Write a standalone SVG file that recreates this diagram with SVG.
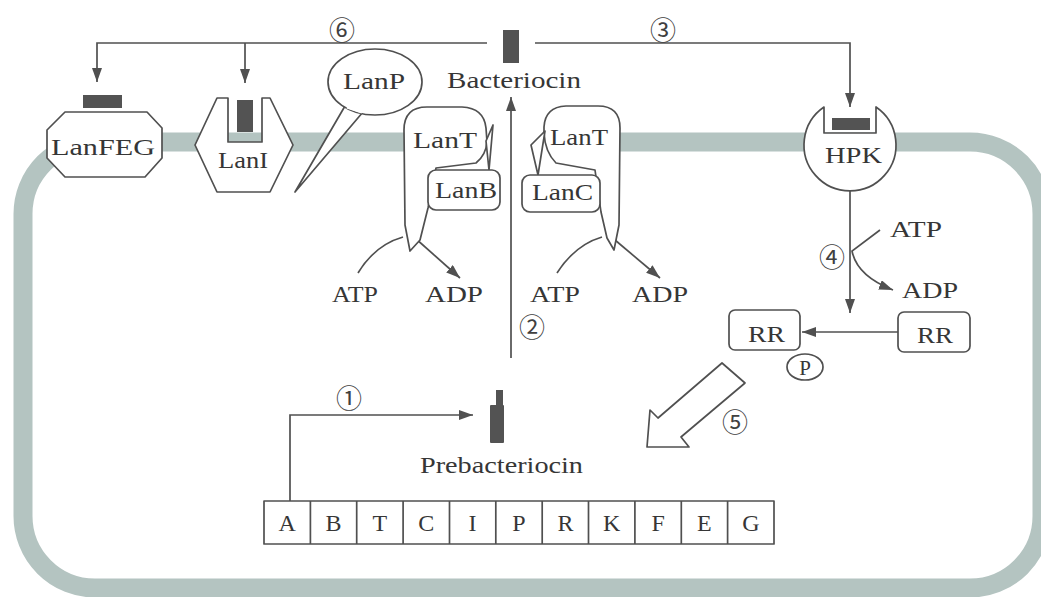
<svg xmlns="http://www.w3.org/2000/svg" width="1041" height="597" viewBox="0 0 1041 597">
<defs>
<style>
.ln{fill:none;stroke:#505050;stroke-width:1.7}
.sh{fill:#fff;stroke:#505050;stroke-width:1.7;stroke-linejoin:round}
.bar{fill:#535353}
.t{font-family:"Liberation Serif","Times New Roman",serif;font-size:24px;fill:#363636}
.b{font-family:"Liberation Serif","Times New Roman",serif;font-size:24px;fill:#363636;text-anchor:middle}
.n{font-family:"Noto Sans CJK SC","DejaVu Sans",sans-serif;font-size:26px;fill:#404040;text-anchor:middle}
</style>
<marker id="ah" viewBox="0 0 14 10" refX="14" refY="5" markerWidth="14" markerHeight="10" markerUnits="userSpaceOnUse" orient="auto">
<path d="M0,0 L14,5 L0,10 Z" fill="#505050"/>
</marker>
</defs>
<rect width="1041" height="597" fill="#fff"/>
<g id="membrane">
<rect x="23" y="142" width="1019" height="446" rx="72" ry="72" fill="none" stroke="#b4c4c1" stroke-width="19"/>
<rect x="480" y="128" width="70" height="30" fill="#fff"/>
</g>
<g id="connectors">
<path class="ln" d="M487,43 L97,43 L97,82" marker-end="url(#ah)"/>
<path class="ln" d="M245,43 L245,83" marker-end="url(#ah)"/>
<path class="ln" d="M535,43 L850,43 L850,107" marker-end="url(#ah)"/>
<path class="ln" d="M511,358 L511,97" marker-end="url(#ah)"/>
<path class="ln" d="M358,273 Q375,245 403,237"/>
<path class="ln" d="M415,238 L460,278" marker-end="url(#ah)"/>
<path class="ln" d="M557,273 Q575,245 602,237"/>
<path class="ln" d="M615,240 L660,278" marker-end="url(#ah)"/>
<path class="ln" d="M850,191 L850,313" marker-end="url(#ah)"/>
<path class="ln" d="M880,230 L852,251 Q857,276 893,290" marker-end="url(#ah)"/>
<path class="ln" d="M898,332 L802,332" marker-end="url(#ah)"/>
<path class="ln" d="M290,501 L290,415 L473,415" marker-end="url(#ah)"/>
</g>
<g id="bacteriocin">
<rect class="bar" x="503" y="30" width="16" height="33"/>
<text class="t" x="447" y="88" textLength="134" lengthAdjust="spacingAndGlyphs">Bacteriocin</text>
</g>
<g id="lanfeg">
<rect class="bar" x="83" y="95" width="39" height="13"/>
<polygon class="sh" points="65,112 147,112 162,128 162,158 145,177 65,177 47,158 47,130"/>
<text class="t" x="51" y="155" textLength="104" lengthAdjust="spacingAndGlyphs">LanFEG</text>
</g>
<g id="lani">
<polygon class="sh" points="217,98 228,98 228,142 262,142 262,98 270,98 293,145 270,192 217,192 195,145"/>
<rect class="bar" x="237" y="100" width="16" height="32"/>
<text class="t" x="218" y="168" textLength="50" lengthAdjust="spacingAndGlyphs">LanI</text>
</g>
<g id="lanp">
<polygon class="sh" points="345,106 295,192 363,112"/>
<ellipse class="sh" cx="375" cy="82" rx="47" ry="33"/>
<path d="M347,107 L362,112" stroke="#fff" stroke-width="3"/>
<text class="t" x="343" y="89" textLength="62" lengthAdjust="spacingAndGlyphs">LanP</text>
</g>
<g id="lant-lanb">
<path class="sh" d="M410,251 L405,225 L404,130 Q404,107 427,107 L462,107 Q484,108 486,128 L487,142 Q486,155 476,163 L436,168 L428,208 L420,240 Z"/>
<polygon class="sh" points="486,141 493,125 489,170"/>
<rect class="sh" x="428" y="170" width="72" height="40" rx="8"/>
<text class="t" x="413" y="148" textLength="64" lengthAdjust="spacingAndGlyphs">LanT</text>
<text class="t" x="435" y="198" textLength="62" lengthAdjust="spacingAndGlyphs">LanB</text>
</g>
<g id="lant-lanc">
<path class="sh" d="M614,250 L619,225 L620,128 Q620,106 598,106 L566,106 Q545,107 544,127 L544,133 Q545,152 556,163 L595,170 L601,212 L607,238 Z"/>
<polygon class="sh" points="545,131 531,145 538,175"/>
<rect class="sh" x="522" y="175" width="78" height="37" rx="8"/>
<text class="t" x="550" y="145" textLength="58" lengthAdjust="spacingAndGlyphs">LanT</text>
<text class="t" x="532" y="200" textLength="61" lengthAdjust="spacingAndGlyphs">LanC</text>
</g>
<g id="atp-adp">
<text class="t" x="332" y="302" textLength="46" lengthAdjust="spacingAndGlyphs">ATP</text>
<text class="t" x="425" y="302" textLength="58" lengthAdjust="spacingAndGlyphs">ADP</text>
<text class="t" x="530" y="302" textLength="50" lengthAdjust="spacingAndGlyphs">ATP</text>
<text class="t" x="632" y="302" textLength="56" lengthAdjust="spacingAndGlyphs">ADP</text>
</g>
<g id="hpk">
<path class="sh" d="M824,107 A46 46 0 1 0 876,107 L876,133 L824,133 Z"/>
<rect class="bar" x="832" y="118" width="38" height="12"/>
<text class="t" x="825" y="163" textLength="57" lengthAdjust="spacingAndGlyphs">HPK</text>
</g>
<g id="phospho">
<text class="t" x="890" y="237" textLength="52" lengthAdjust="spacingAndGlyphs">ATP</text>
<text class="t" x="902" y="298" textLength="56" lengthAdjust="spacingAndGlyphs">ADP</text>
</g>
<g id="rr-p">
<rect class="sh" x="729" y="310" width="71" height="40" rx="6"/>
<text class="t" x="748" y="342" textLength="37" lengthAdjust="spacingAndGlyphs">RR</text>
<ellipse class="sh" cx="805" cy="367" rx="18" ry="13"/>
<text class="t" x="805" y="375" style="font-size:21px;text-anchor:middle">P</text>
</g>
<g id="rr">
<rect class="sh" x="898" y="312" width="72" height="40" rx="6"/>
<text class="t" x="917" y="343" textLength="36" lengthAdjust="spacingAndGlyphs">RR</text>
</g>
<g id="fat-arrow">
<polygon class="sh" points="722,363 745,383 681,437 689,447 647,447 650,410 658,418"/>
</g>
<g id="prebacteriocin">
<rect class="bar" x="496" y="390" width="7" height="17"/>
<rect class="bar" x="490" y="405" width="14" height="38" rx="1"/>
<text class="t" x="420" y="473" textLength="163" lengthAdjust="spacingAndGlyphs">Prebacteriocin</text>
</g>
<g id="operon">
<rect class="sh" x="264" y="501" width="510" height="43"/>
<path class="ln" d="M310.4,501V544M356.7,501V544M403.1,501V544M449.5,501V544M495.8,501V544M542.2,501V544M588.5,501V544M634.9,501V544M681.3,501V544M727.6,501V544"/>
<text class="b" x="287.2" y="531">A</text>
<text class="b" x="333.5" y="531">B</text>
<text class="b" x="379.9" y="531">T</text>
<text class="b" x="426.3" y="531">C</text>
<text class="b" x="472.6" y="531">I</text>
<text class="b" x="519" y="531">P</text>
<text class="b" x="565.4" y="531">R</text>
<text class="b" x="611.7" y="531">K</text>
<text class="b" x="658.1" y="531">F</text>
<text class="b" x="704.4" y="531">E</text>
<text class="b" x="750.8" y="531">G</text>
</g>
<g id="steps">
<text class="n" x="342" y="40">⑥</text>
<text class="n" x="663" y="40">③</text>
<text class="n" x="532" y="337">②</text>
<text class="n" x="832" y="267">④</text>
<text class="n" x="735" y="432">⑤</text>
<text class="n" x="349" y="408">①</text>
</g>
</svg>
